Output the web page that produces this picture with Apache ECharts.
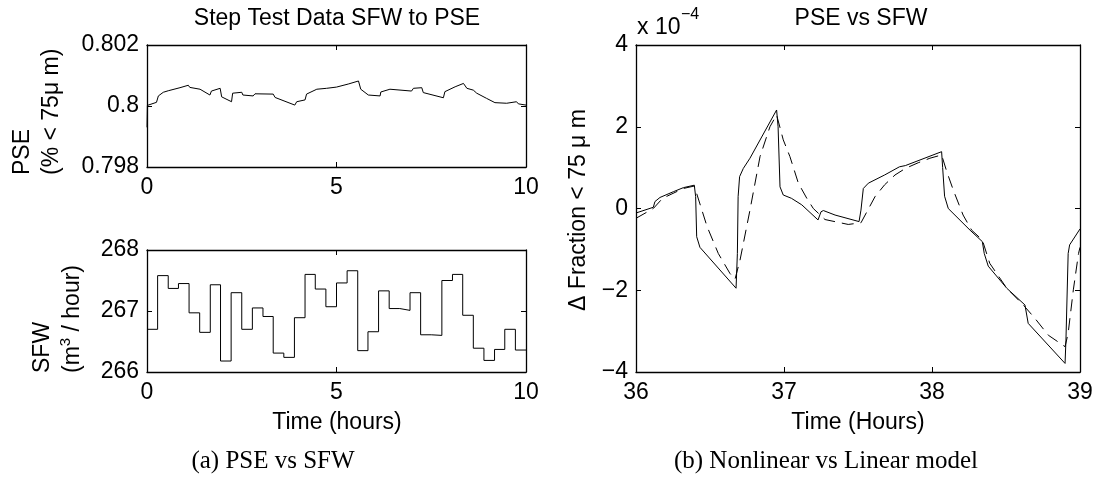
<!DOCTYPE html>
<html><head><meta charset="utf-8">
<script src="https://cdn.jsdelivr.net/npm/echarts@6/dist/echarts.min.js"></script>
<style>html,body{margin:0;padding:0;background:#fff}#c{width:1100px;height:481px}</style>
</head><body><div id="c"></div>
<script>
// ---- Data: (a) top, PSE step test response ----
const pseTime  = [0, 0.01, 0.03, 0.25, 0.3, 0.43, 0.56, 0.87, 1.09, 1.13, 1.4, 1.66, 1.7, 1.93, 1.97, 2.23, 2.26, 2.5, 2.53, 2.8, 2.85, 3.33, 3.38, 3.9, 3.95, 4.17, 4.21, 4.48, 4.74, 5.0, 5.05, 5.31, 5.58, 5.64, 5.84, 6.15, 6.17, 6.41, 6.46, 6.98, 7.03, 7.25, 7.29, 7.82, 7.86, 8.13, 8.35, 8.44, 8.61, 8.7, 8.96, 9.18, 9.49, 9.53, 9.75, 9.8, 10];
const pseValue = [0.7993, 0.80002, 0.80007, 0.80012, 0.80033, 0.80045, 0.8005, 0.8006, 0.80068, 0.80061, 0.80055, 0.80036, 0.80049, 0.80058, 0.8003, 0.80014, 0.80042, 0.80045, 0.80036, 0.80033, 0.8004, 0.80039, 0.80028, 0.80003, 0.80014, 0.8002, 0.80039, 0.80055, 0.80058, 0.80062, 0.80066, 0.80072, 0.80082, 0.80055, 0.80036, 0.80033, 0.80046, 0.80055, 0.8005, 0.80049, 0.80058, 0.8006, 0.80044, 0.80027, 0.80047, 0.80063, 0.80074, 0.80058, 0.80052, 0.80042, 0.80025, 0.80011, 0.80009, 0.80014, 0.80014, 0.80007, 0.80003];

// ---- Data: (a) bottom, SFW step sequence (level held from each start time) ----
const sfwStart = [0, 0.28, 0.56, 0.83, 1.11, 1.39, 1.67, 1.94, 2.22, 2.5, 2.78, 3.06, 3.33, 3.61, 3.89, 4.17, 4.44, 4.72, 5.0, 5.28, 5.56, 5.83, 6.11, 6.39, 6.67, 6.94, 7.22, 7.5, 7.78, 8.06, 8.33, 8.61, 8.89, 9.17, 9.44, 9.72, 10];
const sfwLevel = [266.70, 267.58, 267.37, 267.45, 266.97, 266.65, 267.43, 266.18, 267.30, 266.70, 267.05, 266.91, 266.31, 266.24, 266.89, 267.60, 267.36, 267.07, 267.46, 267.66, 266.35, 266.66, 267.33, 267.04, 267.01, 267.30, 266.61, 266.60, 267.50, 267.60, 266.93, 266.39, 266.19, 266.37, 266.70, 266.36, 266.36];

// ---- Data: (b) nonlinear (solid) vs linear (dashed), values in units of 1e-4 ----
const nonlinTime  = [36.0, 36.117, 36.128, 36.162, 36.252, 36.32, 36.394, 36.403, 36.41, 36.432, 36.676, 36.685, 36.69, 36.70, 36.725, 36.77, 36.95, 36.96, 36.973, 36.995, 37.05, 37.12, 37.23, 37.25, 37.266, 37.345, 37.507, 37.52, 37.536, 37.57, 37.68, 37.78, 37.82, 38.065, 38.072, 38.085, 38.11, 38.257, 38.34, 38.353, 38.38, 38.505, 38.628, 38.65, 38.899, 38.905, 38.92, 38.93, 39.0];
const nonlinValue = [-0.11, 0.03, 0.17, 0.27, 0.41, 0.51, 0.57, 0.29, -0.69, -0.95, -1.95, -1.10, 0.29, 0.78, 0.98, 1.23, 2.41, 2.00, 0.53, 0.33, 0.25, 0.09, -0.28, -0.08, -0.05, -0.16, -0.32, -0.04, 0.49, 0.62, 0.82, 1.02, 1.05, 1.39, 1.0, 0.3, 0.0, -0.53, -0.81, -1.10, -1.41, -1.95, -2.36, -2.81, -3.79, -3.22, -1.10, -0.89, -0.5];
const linTime  = [36.0, 36.117, 36.18, 36.32, 36.394, 36.48, 36.556, 36.635, 36.669, 36.703, 36.77, 36.838, 36.905, 36.95, 36.995, 37.04, 37.097, 37.154, 37.198, 37.277, 37.434, 37.52, 37.615, 37.68, 37.75, 37.82, 37.907, 37.986, 38.065, 38.1, 38.144, 38.21, 38.268, 38.34, 38.39, 38.505, 38.617, 38.696, 38.786, 38.899, 38.92, 38.955, 38.99, 39.0];
const linValue = [-0.24, 0.0, 0.25, 0.49, 0.55, -0.44, -1.10, -1.59, -1.73, -1.26, -0.04, 1.27, 2.00, 2.29, 1.68, 1.27, 0.62, 0.25, 0.0, -0.27, -0.39, -0.35, 0.29, 0.58, 0.82, 0.98, 1.12, 1.23, 1.31, 0.90, 0.45, -0.16, -0.53, -0.77, -1.34, -1.95, -2.36, -2.69, -3.10, -3.38, -3.05, -1.99, -1.10, -0.95];

// ---- Text ----
const titleA = 'Step Test Data SFW to PSE';
const titleB = 'PSE vs SFW';
const xLabelA = 'Time (hours)';
const xLabelB = 'Time (Hours)';
const captionA = '(a) PSE vs SFW';
const captionB = '(b) Nonlinear vs Linear model';

const SANS = '"Liberation Sans", Arial, Helvetica, sans-serif';
const SERIF = '"Liberation Serif", "Times New Roman", serif';
const FS = 23;

const zip = (a, b) => a.map((v, i) => [v, b[i]]);
const minus = s => String(s).replace('-', '\u2212');

function axis(type, gridIndex, opts, showLabel, position) {
  return Object.assign({
    type: 'value', gridIndex, position,
    axisLine: { show: true, onZero: false, lineStyle: { color: '#000', width: 1.3 } },
    axisTick: { show: true, inside: true, length: 5, lineStyle: { color: '#000', width: 1 } },
    splitLine: { show: false },
    axisLabel: { show: showLabel, color: '#000', fontSize: FS, fontFamily: SANS, margin: 8 }
  }, opts);
}

const grids = [
  { left: 147, top: 45, width: 379, height: 122 },
  { left: 147, top: 250, width: 379, height: 122 },
  { left: 636, top: 45, width: 444, height: 327 }
];
const xr = [ {min:0,max:10,interval:5}, {min:0,max:10,interval:5}, {min:36,max:39,interval:1} ];
const yr = [
  {min:0.798,max:0.802,interval:0.002, fmt: v => String(parseFloat(v.toFixed(3)))},
  {min:266,max:268,interval:1, fmt: v => String(v)},
  {min:-4,max:4,interval:2, fmt: v => minus(v)}
];
const xAxes = [], yAxes = [];
for (let g = 0; g < 3; g++) {
  xAxes.push(axis('x', g, Object.assign({}, xr[g]), true, 'bottom'));
  xAxes.push(axis('x', g, Object.assign({}, xr[g]), false, 'top'));
  const yo = { min: yr[g].min, max: yr[g].max, interval: yr[g].interval };
  const yl = axis('y', g, yo, true, 'left');
  yl.axisLabel.formatter = yr[g].fmt;
  yAxes.push(yl);
  yAxes.push(axis('y', g, Object.assign({}, yo), false, 'right'));
}
xAxes[0].axisLabel.margin = 9; xAxes[2].axisLabel.margin = 9; xAxes[4].axisLabel.margin = 9;

const lineBase = { type: 'line', showSymbol: false, symbol: 'none', animation: false, silent: true };
const series = [
  Object.assign({}, lineBase, { xAxisIndex: 0, yAxisIndex: 0, data: zip(pseTime, pseValue), lineStyle: { color: '#000', width: 1 } }),
  Object.assign({}, lineBase, { xAxisIndex: 2, yAxisIndex: 2, step: 'end', data: zip(sfwStart, sfwLevel), lineStyle: { color: '#000', width: 1 } }),
  Object.assign({}, lineBase, { xAxisIndex: 4, yAxisIndex: 4, data: zip(nonlinTime, nonlinValue), lineStyle: { color: '#000', width: 1 } }),
  Object.assign({}, lineBase, { xAxisIndex: 4, yAxisIndex: 4, data: zip(linTime, linValue), lineStyle: { color: '#000', width: 1, type: [12, 7] } })
];

function txt(x, y, text, o) {
  o = o || {};
  return {
    type: 'text', x, y, rotation: o.rot || 0, silent: true,
    style: {
      text, fill: '#000', font: (o.size || FS) + 'px ' + (o.family || SANS),
      align: o.align || 'center', textAlign: o.align || 'center',
      verticalAlign: 'middle', textVerticalAlign: 'middle',
      lineHeight: o.lh, rich: o.rich
    }
  };
}

const graphic = [
  txt(337, 19, titleA),
  txt(861, 19, titleB),
  txt(637, 28, 'x 10', { align: 'left' }),
  txt(681, 15, '\u22124', { align: 'left', size: 16 }),
  txt(337, 423, xLabelA),
  txt(858, 423, xLabelB),
  txt(273, 461, captionA, { family: SERIF, size: 25 }),
  txt(826, 461, captionB, { family: SERIF, size: 25 }),
  txt(579, 210, '\u0394 Fraction < 75 \u03bc m', { rot: Math.PI / 2 }),
  txt(37, 175, 'PSE\n(% < 75\u03bc m)', { rot: Math.PI / 2, align: 'left', lh: 29 }),
  txt(58, 373, '{a|SFW}\n{a|(m}{s|3}{a| / hour)}', { rot: Math.PI / 2, align: 'left', lh: 30,
    rich: {
      a: { fontSize: FS, fontFamily: SANS, fill: '#000', color: '#000', lineHeight: 30 },
      s: { fontSize: 15, fontFamily: SANS, fill: '#000', color: '#000', verticalAlign: 'top', lineHeight: 22 }
    } })
];

const chart = echarts.init(document.getElementById('c'), null, { renderer: 'canvas' });
chart.setOption({
  animation: false,
  backgroundColor: '#fff',
  grid: grids.map(g => Object.assign({ containLabel: false }, g)),
  xAxis: xAxes,
  yAxis: yAxes,
  series,
  graphic
});
</script>
</body></html>
